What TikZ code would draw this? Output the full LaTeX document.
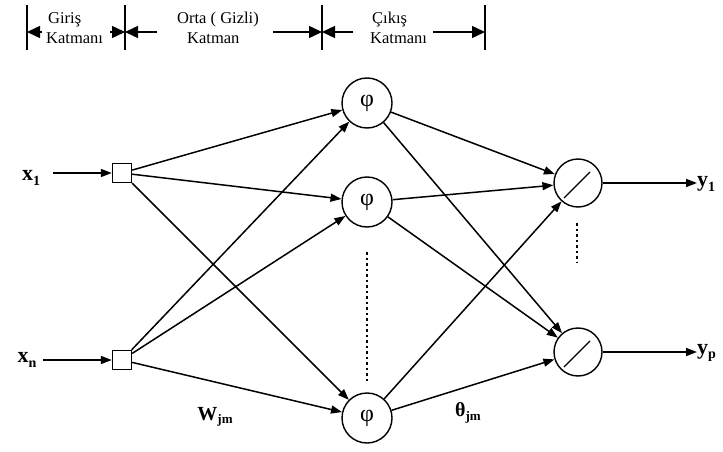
\documentclass[tikz,border=0pt]{standalone}
\usepackage{fontspec}
\setmainfont{Liberation Serif}
\usetikzlibrary{arrows.meta,calc}
\tikzset{
  conn/.style={line width=1.5pt,-{Triangle[length=11pt,width=8pt]}},
  hdr/.style={line width=1.5pt},
  hdrarrow/.style={line width=1.5pt,-{Triangle[length=13pt,width=12pt]}},
  neuron/.style={circle,draw,line width=1.4pt,minimum size=50pt,inner sep=0pt,font=\fontsize{24}{24}\selectfont},
  outneuron/.style={circle,draw,line width=1.4pt,minimum size=48pt,inner sep=0pt},
  inbox/.style={rectangle,draw,line width=1.4pt,minimum size=19pt,inner sep=0pt},
  lbl/.style={inner sep=0pt,font=\fontsize{22}{22}\selectfont\bfseries},
  htxt/.style={inner sep=0pt,font=\fontsize{16.5}{16.5}\selectfont,anchor=west},
  vdots/.style={line width=2pt,dash pattern=on 2.5pt off 3pt}
}
\begin{document}
\begin{tikzpicture}[x=1pt,y=-1pt]
\useasboundingbox (0,0) rectangle (723,452);
% header bars
\coordinate (b1t) at (27,5);   \coordinate (b1b) at (27,50);
\coordinate (b2t) at (125,5);  \coordinate (b2b) at (125,50);
\coordinate (b3t) at (322,5);  \coordinate (b3b) at (322,50);
\coordinate (b4t) at (485,5);  \coordinate (b4b) at (485,50);
\draw[hdr] (b1t) -- (b1b);
\draw[hdr] (b2t) -- (b2b);
\draw[hdr] (b3t) -- (b3b);
\draw[hdr] (b4t) -- (b4b);
\coordinate (a1s) at (42,32);  \coordinate (a1e) at (27,32);
\coordinate (a2s) at (110,32); \coordinate (a2e) at (125,32);
\coordinate (a3s) at (157,32); \coordinate (a3e) at (125,32);
\coordinate (a4s) at (273,32); \coordinate (a4e) at (322,32);
\coordinate (a5s) at (353,32); \coordinate (a5e) at (322,32);
\coordinate (a6s) at (433,32); \coordinate (a6e) at (485,32);
\draw[hdrarrow] (a1s) -- (a1e);
\draw[hdrarrow] (a2s) -- (a2e);
\draw[hdrarrow] (a3s) -- (a3e);
\draw[hdrarrow] (a4s) -- (a4e);
\draw[hdrarrow] (a5s) -- (a5e);
\draw[hdrarrow] (a6s) -- (a6e);
\node[htxt] (t1) at (48,20) {Giriş};
\node[htxt] (t2) at (46,38) {Katmanı};
\node[htxt] (t3) at (177,20) {Orta ( Gizli)};
\node[htxt] (t4) at (187,38) {Katman};
\node[htxt] (t5) at (372,20) {Çıkış};
\node[htxt] (t6) at (370,38) {Katmanı};
% input nodes
\node[inbox] (in1) at (122,173) {};
\node[inbox] (inn) at (122,360) {};
\coordinate (x1s) at (53,173);
\coordinate (xns) at (43,360);
\node[lbl] (x1) at (31,178) {x\raisebox{-0.45ex}{\fontsize{14}{14}\selectfont 1}};
\node[lbl] (xn) at (27,360) {x\raisebox{-0.45ex}{\fontsize{14}{14}\selectfont n}};
\draw[conn] (x1s) -- (in1);
\draw[conn] (xns) -- (inn);
% hidden nodes
\node[neuron] (h1) at (367,103) {φ};
\node[neuron] (h2) at (367,202) {φ};
\node[neuron] (h3) at (367,418) {φ};
\coordinate (hd1) at (367,252);
\coordinate (hd2) at (367,382);
\draw[vdots] (hd1) -- (hd2);
% output nodes
\node[outneuron] (o1) at (578,183) {};
\node[outneuron] (o2) at (578,352) {};
\draw[line width=1.4pt] ($(o1)+(-14,15)$) -- ($(o1)+(12,-11)$);
\draw[line width=1.4pt] ($(o2)+(-14,15)$) -- ($(o2)+(12,-11)$);
\coordinate (od1) at (577,223);
\coordinate (od2) at (577,262);
\draw[vdots] (od1) -- (od2);
% input to hidden
\foreach \s in {in1,inn}{
  \foreach \t in {h1,h2,h3}{
    \draw[conn] (\s) -- (\t);
  }
}
% hidden to output
\foreach \s in {h1,h2,h3}{
  \foreach \t in {o1,o2}{
    \draw[conn] (\s) -- (\t);
  }
}
% outputs
\coordinate (y1e) at (697,183);
\coordinate (ype) at (697,352);
\draw[conn] (o1) -- (y1e);
\draw[conn] (o2) -- (ype);
\node[lbl,anchor=west] (y1) at (697,184) {y\raisebox{-0.45ex}{\fontsize{14}{14}\selectfont 1}};
\node[lbl,anchor=west] (yp) at (697,353) {y\raisebox{-0.45ex}{\fontsize{14}{14}\selectfont p}};
% weight labels
\node[lbl,font=\fontsize{20}{20}\selectfont\bfseries] (w) at (215,417) {W\raisebox{-0.3ex}{\fontsize{13}{13}\selectfont jm}};
\node[lbl,font=\fontsize{20}{20}\selectfont\bfseries] (th) at (468,413) {θ\raisebox{-0.4ex}{\fontsize{13}{13}\selectfont jm}};
\end{tikzpicture}
\end{document}
